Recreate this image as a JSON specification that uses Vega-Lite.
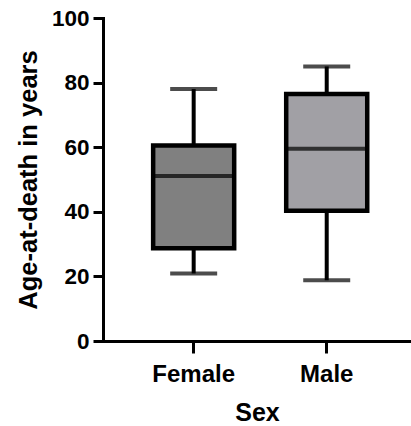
{
  "$schema": "https://vega.github.io/schema/vega-lite/v6.json",
  "width": 308,
  "height": 323,
  "padding": {"left": 16, "top": 7, "right": 1, "bottom": 2},
  "background": "white",
  "config": {
    "view": {"stroke": null},
    "font": "Liberation Sans",
    "axis": {
      "labelFont": "Liberation Sans", "labelFontWeight": "bold", "labelFontSize": 22.5, "labelColor": "black",
      "titleFont": "Liberation Sans", "titleFontWeight": "bold", "titleFontSize": 25, "titleColor": "black",
      "domainColor": "black", "domainWidth": 3, "tickColor": "black", "tickWidth": 3, "grid": false, "domainCap": "square"
    }
  },
  "data": {
    "values": [
      {"sex": "Female", "min": 20.9, "q1": 28.7, "median": 51.1, "q3": 60.5, "max": 78.0},
      {"sex": "Male", "min": 18.8, "q1": 40.3, "median": 59.5, "q3": 76.5, "max": 85.0}
    ]
  },
  "encoding": {
    "x": {
      "field": "sex", "type": "nominal", "sort": ["Female", "Male"],
      "scale": {"paddingInner": 0.391, "paddingOuter": 0.353, "align": 0.534},
      "axis": {"title": "Sex", "labelAngle": 0, "tickSize": 12, "labelPadding": 9, "labelFontSize": 24, "titleFontSize": 25, "titlePadding": 14}
    }
  },
  "layer": [
    {
      "mark": {"type": "rule", "strokeWidth": 4, "color": "black"},
      "encoding": {
        "y": {"field": "min", "type": "quantitative", "scale": {"domain": [0, 100]},
          "axis": {"title": "Age-at-death in years", "values": [0, 20, 40, 60, 80, 100], "tickSize": 10, "labelPadding": 4, "titlePadding": 10, "titleFontSize": 25.5}},
        "y2": {"field": "q1"}
      }
    },
    {
      "mark": {"type": "rule", "strokeWidth": 4, "color": "black"},
      "encoding": {
        "y": {"field": "q3", "type": "quantitative"},
        "y2": {"field": "max"}
      }
    },
    {
      "mark": {"type": "bar", "stroke": "black", "strokeWidth": 4.5},
      "encoding": {
        "y": {"field": "q1", "type": "quantitative"},
        "y2": {"field": "q3"},
        "fill": {"field": "sex", "type": "nominal", "scale": {"domain": ["Female", "Male"], "range": ["#808080", "#a1a0a5"]}, "legend": null}
      }
    },
    {
      "mark": {"type": "tick", "size": 81, "thickness": 4, "color": "black"},
      "encoding": {"y": {"field": "median", "type": "quantitative"}}
    },
    {
      "mark": {"type": "tick", "size": 47, "thickness": 4, "color": "black"},
      "encoding": {"y": {"field": "min", "type": "quantitative"}}
    },
    {
      "mark": {"type": "tick", "size": 47, "thickness": 4, "color": "black"},
      "encoding": {"y": {"field": "max", "type": "quantitative"}}
    }
  ]
}
